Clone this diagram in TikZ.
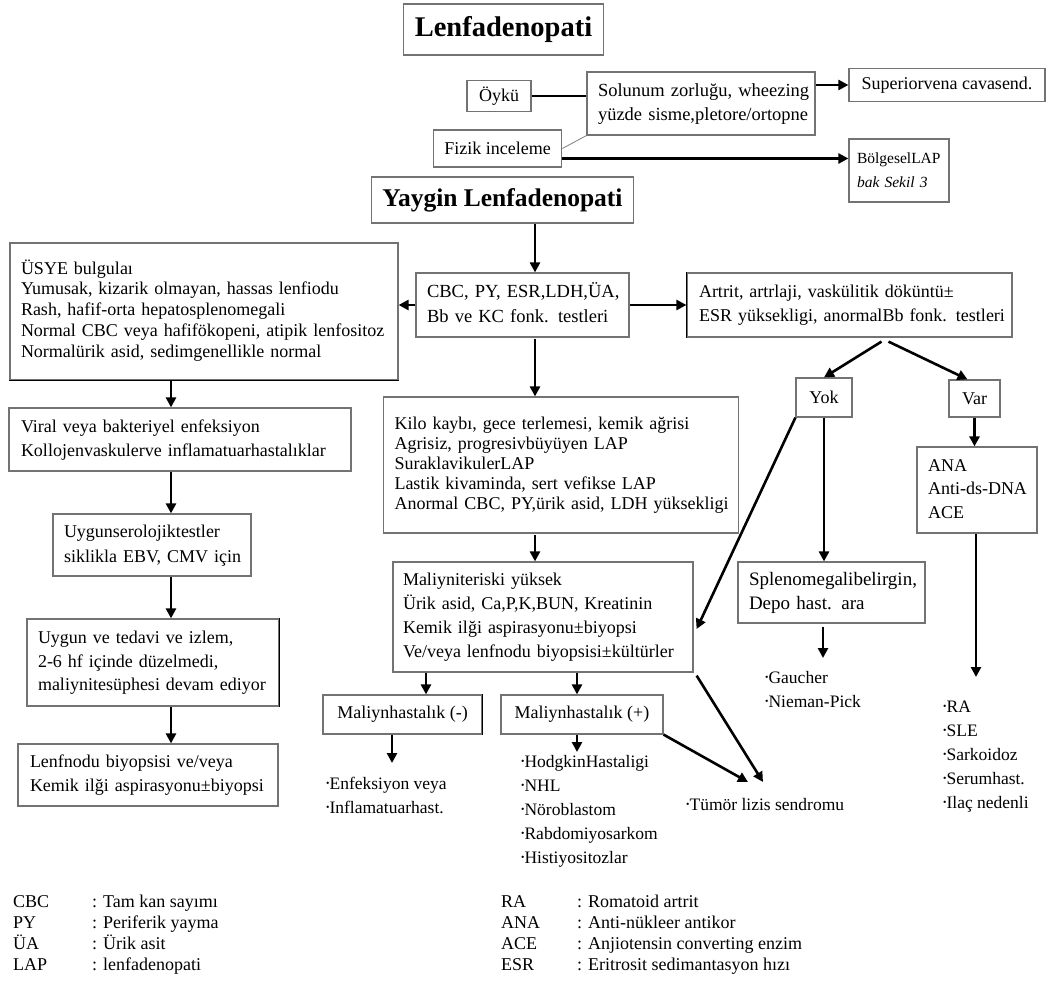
\documentclass[tikz,border=0pt]{standalone}
\usepackage{fontspec}
\setmainfont{Liberation Serif}
\usepackage{graphicx}
\usetikzlibrary{arrows.meta,calc}
\newcommand{\tb}[1]{\begin{tabular}{@{}l@{}}#1\end{tabular}}
\newcommand{\tbt}[1]{\begin{tabular}[t]{@{}l@{}}#1\end{tabular}}
\newcommand{\bul}{\raisebox{0.25ex}{\scalebox{0.55}{•}}}
\begin{document}
\begin{tikzpicture}[x=1pt,y=-1pt,
  box/.style={draw=black!55, line width=1.2pt, inner xsep=11pt, inner ysep=0pt, align=left, font=\fontsize{18}{24}\selectfont},
  arr/.style={line width=2.6pt, -{Triangle[length=10pt,width=10pt]}},
  thinline/.style={line width=1.4pt},
  darkedge/.style={line width=1.6pt, black},
  lst/.style={anchor=base west, inner sep=0pt, font=\fontsize{17.5}{24}\selectfont},
  leg/.style={anchor=base west, inner sep=0pt, font=\fontsize{18}{21}\selectfont},
]
\fill[white] (0,0) rectangle (1052,992);
\useasboundingbox (0,0) rectangle (1052,992);

% top part
\node[box, font=\fontsize{28.5}{30}\selectfont\bfseries, minimum width=191pt, minimum height=51pt, align=center] (title) at (503.5,29.5) {Lenfadenopati};
\node[box, minimum width=64pt, minimum height=31pt, align=center] (oyku) at (499,96) {Öykü};
\node[box, minimum width=228pt, minimum height=63pt, text width=206pt, font=\fontsize{18.5}{24}\selectfont] (solunum) at (701,103.5) {\tb{Solunum zorluğu, wheezing\\ yüzde sisme,pletore/ortopne}};
\node[box, minimum width=196pt, minimum height=33pt, align=center] (superior) at (947,85) {Superiorvena cavasend.};
\node[box, minimum width=125pt, minimum height=37pt, align=center] (fizik) at (497.5,148.5) {Fizik inceleme};
\node[box, minimum width=100pt, minimum height=63pt, text width=84pt, inner xsep=8pt, font=\fontsize{15.5}{24}\selectfont] (bolgesel) at (899,170.5) {\tb{BölgeselLAP\\ \textit{bak Sekil 3}}};
\node[box, font=\fontsize{25.5}{28}\selectfont\bfseries, minimum width=255pt, minimum height=46pt, align=center] (yaygin) at (502.5,200) {Yaygin Lenfadenopati};

% middle
\node[box, minimum width=213pt, minimum height=64pt, text width=191pt, font=\fontsize{18.5}{25}\selectfont] (cbc) at (522.5,305) {\tb{CBC, PY, ESR,LDH,ÜA,\\ Bb ve KC fonk. testleri}};
\node[box, minimum width=388pt, minimum height=137pt, text width=366pt, font=\fontsize{18}{20.8}\selectfont] (usye) at (204,311.5) {\tb{ÜSYE bulgulaı\\ Yumusak, kizarik olmayan, hassas lenfiodu\\ Rash, hafif-orta hepatosplenomegali\\ Normal CBC veya hafifökopeni, atipik lenfositoz\\ Normalürik asid, sedimgenellikle normal}};
\node[box, minimum width=325pt, minimum height=64pt, text width=301pt, inner xsep=12pt] (artrit) at (849.5,305) {\tb{Artrit, artrlaji, vaskülitik döküntü±\\ ESR yüksekligi, anormalBb fonk. testleri}};
\node[box, minimum width=56pt, minimum height=39pt, align=center] (yok) at (824,397.5) {Yok};
\node[box, minimum width=51pt, minimum height=37pt, align=center] (var) at (974.5,398.5) {Var};
\node[box, minimum width=355pt, minimum height=136pt, text width=333pt, font=\fontsize{18}{20}\selectfont] (kilo) at (561,465) {\tb{Kilo kaybı, gece terlemesi, kemik ağrisi\\ Agrisiz, progresivbüyüyen LAP\\ SuraklavikulerLAP\\ Lastik kivaminda, sert vefikse LAP\\ Anormal CBC, PY,ürik asid, LDH yüksekligi}};
\node[box, minimum width=300pt, minimum height=110pt, text width=280pt, inner xsep=10pt] (maliy) at (543,617) {\tb{Maliyniteriski yüksek\\ Ürik asid, Ca,P,K,BUN, Kreatinin\\ Kemik ilği aspirasyonu±biyopsi\\ Ve/veya lenfnodu biyopsisi±kültürler}};
\node[box, minimum width=187pt, minimum height=61pt, text width=165pt, font=\fontsize{19}{24}\selectfont] (spleno) at (831.5,592.5) {\tb{Splenomegalibelirgin,\\ Depo hast. ara}};
\node[box, minimum width=120pt, minimum height=86pt, text width=98pt, font=\fontsize{18}{23.5}\selectfont] (ana) at (977,490) {\tb{ANA\\ Anti-ds-DNA\\ ACE}};
\node[box, minimum width=159pt, minimum height=39pt, align=center] (mneg) at (402.5,714.5) {Maliynhastalık (-)};
\node[box, minimum width=162pt, minimum height=39pt, align=center] (mpos) at (582,714.5) {Maliynhastalık (+)};

% left column
\node[box, minimum width=342pt, minimum height=63pt, text width=318pt, inner xsep=12pt] (viral) at (180,439.5) {\tb{Viral veya bakteriyel enfeksiyon\\ Kollojenvaskulerve inflamatuarhastalıklar}};
\node[box, minimum width=198pt, minimum height=62pt, text width=176pt, font=\fontsize{18}{25}\selectfont] (seroloji) at (152,545) {\tb{Uygunserolojiktestler\\ siklikla EBV, CMV için}};
\node[box, minimum width=252pt, minimum height=87pt, text width=230pt, font=\fontsize{18}{23.5}\selectfont] (tedavi) at (153,662.5) {\tb{Uygun ve tedavi ve izlem,\\ 2-6 hf içinde düzelmedi,\\ maliynitesüphesi devam ediyor}};
\node[box, minimum width=260pt, minimum height=62pt, text width=236pt, inner xsep=12pt, font=\fontsize{18}{23.5}\selectfont] (lenfnodu) at (148,775) {\tb{Lenfnodu biyopsisi ve/veya\\ Kemik ilği aspirasyonu±biyopsi}};

% darker edges seen in the reference
\draw[darkedge] (tedavi.north east) -- (tedavi.south east);
\draw[darkedge] (mneg.north east) -- (mneg.south east);
\draw[darkedge] (artrit.north west) -- (artrit.south west);
\draw[darkedge] (usye.south west) -- (usye.south east);

% lists
\node[lst] (enf) at (326,789) {\tbt{\bul Enfeksiyon veya\\ \bul Inflamatuarhast.}};
\node[lst] (hodg) at (521,767) {\tbt{\bul HodgkinHastaligi\\ \bul NHL\\ \bul Nöroblastom\\ \bul Rabdomiyosarkom\\ \bul Histiyositozlar}};
\node[lst] (tumor) at (686,810) {\bul Tümör lizis sendromu};
\node[lst] (gauch) at (765,683) {\tbt{\bul Gaucher\\ \bul Nieman-Pick}};
\node[lst] (ralist) at (943,712) {\tbt{\bul RA\\ \bul SLE\\ \bul Sarkoidoz\\ \bul Serumhast.\\ \bul Ilaç nedenli}};

% legend
\node[leg] (legl) at (13,907) {\begin{tabular}[t]{@{}p{79pt}@{}l@{}}CBC & : Tam kan sayımı\\ PY & : Periferik yayma\\ ÜA & : Ürik asit\\ LAP & : lenfadenopati\end{tabular}};
\node[leg] (legr) at (501,907) {\begin{tabular}[t]{@{}p{76pt}@{}l@{}}RA & : Romatoid artrit\\ ANA & : Anti-nükleer antikor\\ ACE & : Anjiotensin converting enzim\\ ESR & : Eritrosit sedimantasyon hızı\end{tabular}};

% helper coordinates
\coordinate (axis) at (535,0);
\coordinate (laxis) at (171,0);
\coordinate (mn) at (426,0);
\coordinate (mp) at (577,0);
\coordinate (gtip) at (823,658);
\coordinate (rtip) at (976,677);
\coordinate (etip) at (392,763);
\coordinate (htip) at (577,752);
\coordinate (t1) at (748,782);
\coordinate (t2) at (763,782);
\coordinate (fz) at ($(fizik.east)+(0,10)$);

% connectors
\draw[thinline] (oyku.east) -- (oyku.east -| solunum.west);
\draw[line width=0.8pt, black!50] (fizik.east) -- (solunum.south west);
\draw[arr] (solunum.east |- superior.west) -- (superior.west);
\draw[arr] (fz) -- (fz -| bolgesel.west);
\draw[arr] (yaygin.south -| axis) -- (cbc.north -| axis);
\draw[arr] (cbc.west) -- (cbc.west -| usye.east);
\draw[arr] (cbc.east) -- (cbc.east -| artrit.west);
\draw[arr] ($(cbc.south -| axis)+(0,1)$) -- (kilo.north -| axis);
\draw[arr] ($(kilo.south -| axis)+(0,1)$) -- (maliy.north -| axis);
\draw[arr] ($(artrit.south)+(32,4)$) -- (yok.north);
\draw[arr] ($(artrit.south)+(39,4)$) -- ($(var.north)+(-7,0)$);
\draw[arr] (yok.south west) -- ($(maliy.east)+(3,12)$);
\draw[arr] (yok.south) -- (yok.south |- spleno.north);
\draw[arr] ($(spleno.south -| gtip)+(0,3)$) -- (gtip);
\draw[arr] (var.south) -- (var.south |- ana.north);
\draw[arr] (ana.south -| rtip) -- (rtip);
\draw[arr] (maliy.south -| mn) -- (mneg.north -| mn);
\draw[arr] (maliy.south -| mp) -- (mpos.north -| mp);
\draw[arr] (mneg.south -| etip) -- (etip);
\draw[arr] (mpos.south -| htip) -- (htip);
\draw[arr] (mpos.south east) -- (t1);
\draw[arr] ($(maliy.south east)+(3,3)$) -- (t2);
\draw[arr] (usye.south -| laxis) -- (viral.north -| laxis);
\draw[arr] (viral.south -| laxis) -- (seroloji.north -| laxis);
\draw[arr] (seroloji.south -| laxis) -- (tedavi.north -| laxis);
\draw[arr] (tedavi.south -| laxis) -- (lenfnodu.north -| laxis);
\end{tikzpicture}
\end{document}
